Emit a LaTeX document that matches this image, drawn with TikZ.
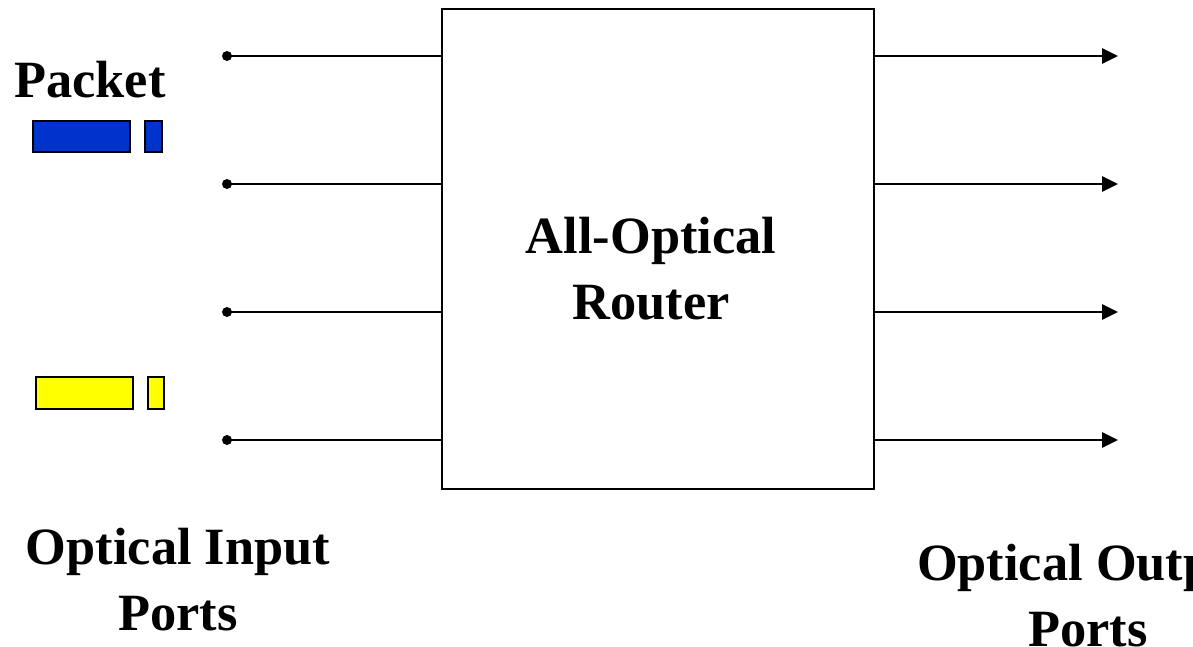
\documentclass[tikz,border=0pt]{standalone}
\usepackage{fontspec}
\setmainfont{Liberation Serif}
\usetikzlibrary{arrows.meta,positioning}

\begin{document}
\begin{tikzpicture}[x=0.02cm, y=-0.02cm,
                        line width=1.6pt,
                        routerbox/.style={
                            draw,
                            fill=white,
                            line width=1.4pt,
                            minimum width=8.64cm,
                            minimum height=9.6cm,
                            inner sep=0pt
                        },
                        portdot/.style={
                            circle,
                            fill=black,
                            inner sep=0pt,
                            minimum size=0.2cm
                        },
                        label/.style={
                            font=\bfseries\fontsize{29.8}{37.5}\selectfont,
                            align=center,
                            inner sep=0pt
                        },
                        packetbox/.style={
                            draw,
                            line width=1pt,
                            inner sep=0pt
                        },
                        outarrow/.style={
                            -{Triangle[length=0.32cm, width=0.3cm]}
                        }
                    ]

                    % canvas
                    \clip (0,0) rectangle (1193,646);

                    % All-Optical Router (solid box, middle)
                    \node[routerbox, anchor=north west] (router) at (441,8) {};

                    \node[label] (routertext) at (651,269)
                        {All-Optical\\Router};

                    % Input ports (dots on the left)
                    \node[portdot] (in1) at (227,56) {};
                    \node[portdot] (in2) at (227,184) {};
                    \node[portdot] (in3) at (227,312) {};
                    \node[portdot] (in4) at (227,440) {};

                    \draw (in1.center) -- (router.west |- in1);
                    \draw (in2.center) -- (router.west |- in2);
                    \draw (in3.center) -- (router.west |- in3);
                    \draw (in4.center) -- (router.west |- in4);

                    % Output ports (arrows on the right)
                    \coordinate (out1) at (1118,56);
                    \coordinate (out2) at (1118,184);
                    \coordinate (out3) at (1118,312);
                    \coordinate (out4) at (1118,440);

                    \draw[outarrow] (router.east |- out1) -- (out1);
                    \draw[outarrow] (router.east |- out2) -- (out2);
                    \draw[outarrow] (router.east |- out3) -- (out3);
                    \draw[outarrow] (router.east |- out4) -- (out4);

                    % Packets (blue above, yellow below)
                    \node[label, anchor=base] (packettext) at (90,97) {Packet};

                    \draw[packetbox, fill={rgb,255:red,0;green,51;blue,204}]
                        (33,121) rectangle (130,152);
                    \draw[packetbox, fill={rgb,255:red,0;green,51;blue,204}]
                        (145,121) rectangle (162,152);

                    \draw[packetbox, fill={rgb,255:red,255;green,255;blue,0}]
                        (36,377) rectangle (133,409);
                    \draw[packetbox, fill={rgb,255:red,255;green,255;blue,0}]
                        (148,377) rectangle (164,409);

                    % Port labels (the output one runs off the right edge)
                    \node[label] (intext) at (178,580)
                        {Optical Input\\Ports};

                    \node[label] (outtext) at (1088,596)
                        {Optical Output\\Ports};
                    \end{tikzpicture}
\end{document}
